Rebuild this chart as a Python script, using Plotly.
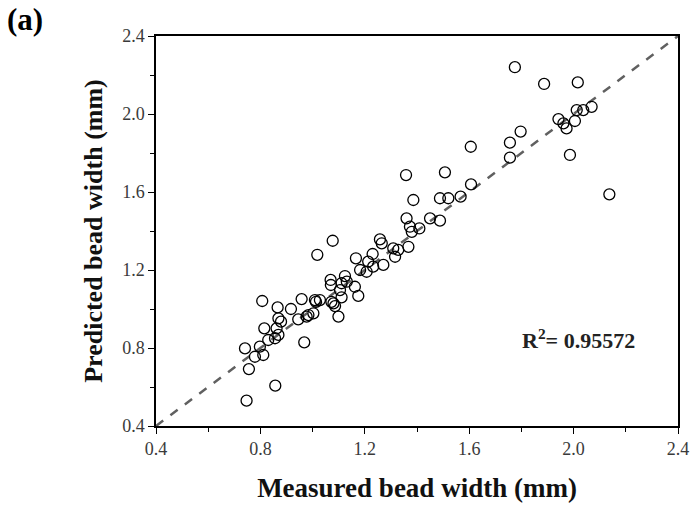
import plotly.graph_objects as go

measured = [0.747, 0.857, 0.756, 0.741, 0.779, 0.811, 0.798, 0.830, 0.856, 0.869,
            0.862, 0.815, 0.968, 0.869, 0.879, 0.945, 0.977, 1.003, 0.984, 0.807,
            0.866, 0.917, 0.958, 1.009, 1.028, 1.018, 1.077, 1.099, 1.013, 1.072,
            1.080, 1.086, 1.111, 1.105, 1.069, 1.070, 1.124, 1.131, 1.111, 1.162,
            1.175, 1.166, 1.182, 1.207, 1.213, 1.232, 1.271, 1.230, 1.258, 1.265,
            1.309, 1.328, 1.316, 1.367, 1.360, 1.373, 1.380, 1.409, 1.450, 1.488,
            1.358, 1.386, 1.488, 1.520, 1.567, 1.507, 1.607, 1.606, 1.756, 1.756,
            1.797, 1.775, 1.887, 2.016, 1.942, 1.961, 1.973, 2.005, 2.012, 2.037,
            2.069, 1.986, 2.137]
predicted = [0.530, 0.607, 0.692, 0.798, 0.755, 0.764, 0.807, 0.841, 0.850, 0.867,
             0.901, 0.901, 0.829, 0.952, 0.935, 0.947, 0.961, 0.978, 0.969, 1.041,
             1.008, 1.000, 1.051, 1.046, 1.046, 1.278, 1.350, 0.961, 1.037, 1.037,
             1.029, 1.015, 1.060, 1.097, 1.149, 1.123, 1.169, 1.140, 1.132, 1.114,
             1.067, 1.260, 1.200, 1.191, 1.243, 1.217, 1.226, 1.282, 1.357, 1.337,
             1.311, 1.303, 1.268, 1.319, 1.465, 1.422, 1.396, 1.413, 1.465, 1.453,
             1.687, 1.559, 1.568, 1.568, 1.576, 1.701, 1.639, 1.832, 1.776, 1.853,
             1.910, 2.240, 2.154, 2.162, 1.974, 1.952, 1.926, 1.964, 2.020, 2.020,
             2.037, 1.790, 1.588]

ref_line = [0.4, 2.4]
tick_vals = [0.4, 0.8, 1.2, 1.6, 2.0, 2.4]
tick_text = ["0.4", "0.8", "1.2", "1.6", "2.0", "2.4"]
r2_text = "R<sup>2</sup>= 0.95572"

FONT = "Liberation Serif"

fig = go.Figure()
fig.add_trace(go.Scatter(
    x=ref_line, y=ref_line, mode="lines",
    line=dict(color="#606060", width=2.5, dash="dash"),
    showlegend=False, hoverinfo="skip"))
fig.add_trace(go.Scatter(
    x=measured, y=predicted, mode="markers",
    marker=dict(symbol="circle-open", size=11, color="black",
                line=dict(width=1.3, color="black")),
    showlegend=False))

axis_common = dict(
    range=[0.4, 2.4], tickmode="array", tickvals=tick_vals, ticktext=tick_text,
    automargin=False,
    showgrid=False, zeroline=False, showline=True, linecolor="black", linewidth=1.5,
    mirror=True, ticks="outside", ticklen=6, tickwidth=1.2, tickcolor="black",
    tickfont=dict(family=FONT, size=18, color="#3a3a3a"),
    minor=dict(ticks="outside", ticklen=4, tickwidth=1, tickcolor="black", dtick=0.2,
               tick0=0.4, showgrid=False),
)

fig.update_xaxes(**axis_common,
                 title=dict(text="<b>Measured bead width (mm)</b>", standoff=20,
                            font=dict(family=FONT, size=27, color="#111111")))
fig.update_yaxes(**axis_common,
                 title=dict(text="<b>Predicted bead width (mm)</b>", standoff=12,
                            font=dict(family=FONT, size=26, color="#111111")))

fig.add_annotation(x=1.795, y=0.846, xref="x", yref="y", text="<b>" + r2_text + "</b>",
                   showarrow=False, xanchor="left", yanchor="middle",
                   font=dict(family=FONT, size=22, color="#222222"))
fig.add_annotation(x=-0.29, y=1.092, xref="paper", yref="paper", text="<b>(a)</b>",
                   showarrow=False, xanchor="left", yanchor="top",
                   font=dict(family=FONT, size=31, color="black"))

fig.update_layout(
    width=692, height=505,
    margin=dict(l=156, r=14, t=36, b=79),
    plot_bgcolor="white", paper_bgcolor="white",
)

fig.write_html("out.html", config={"displayModeBar": False},
               post_script="document.body.style.margin='0';document.body.style.overflow='hidden';")
